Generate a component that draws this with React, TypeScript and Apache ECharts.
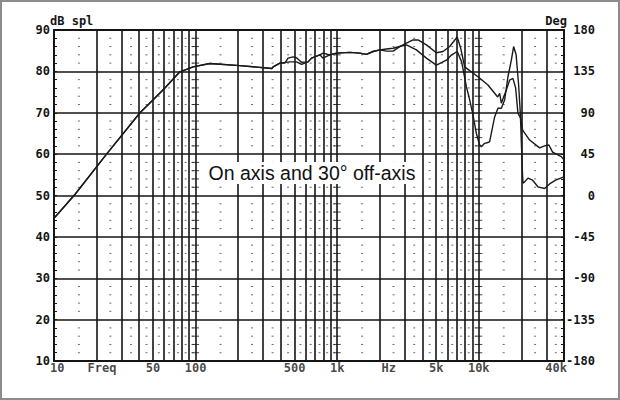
import React, { useEffect, useRef } from "react";
import * as echarts from "echarts";

// Shared low-frequency part (both curves coincide)
const freqShared = [10, 14.1, 23.5, 40.5, 50, 60.7, 70, 77.5, 96, 126, 205, 346];
const dbShared = [44.5, 50.3, 60.0, 70.0, 73.1, 76.0, 78.3, 79.9, 81.1, 81.9, 81.4, 80.7];

// On-axis curve (upper, after divergence)
const freqOn = [353, 394, 427, 450, 488, 516, 560, 623, 659, 754, 795, 887, 989, 1227, 1444, 1610, 1792, 1998, 2228, 2481, 2765, 3084, 3434, 3724, 4268, 5021, 5590, 6232, 7042, 7451, 7954, 9872, 11614, 12947, 13596, 14044, 14437, 15659, 16522, 17432, 18214, 18908, 19756, 20410, 22868, 26905, 29177, 31295, 33233, 38285, 40000];
const dbOn = [81.1, 82.0, 82.0, 83.2, 83.5, 83.3, 82.2, 82.3, 83.2, 84.0, 84.4, 84.0, 84.4, 84.6, 84.4, 84.1, 84.8, 85.2, 85.4, 85.6, 86.0, 86.8, 87.6, 87.6, 86.4, 84.5, 84.8, 86.0, 88.3, 85.6, 81.1, 78.7, 76.7, 74.7, 73.8, 74.7, 72.3, 75.5, 77.9, 78.3, 76.0, 69.9, 68.7, 65.8, 63.4, 61.5, 62.0, 62.2, 60.5, 59.4, 58.6];

// 30° off-axis curve
const freqOff = [353, 394, 463, 516, 560, 623, 659, 754, 795, 887, 989, 1227, 1444, 1610, 1792, 1998, 2228, 2481, 2765, 3084, 3627, 4268, 5021, 5907, 6439, 7042, 7573, 8176, 8628, 9101, 9618, 10148, 10430, 11005, 11614, 11939, 12597, 12947, 13662, 14437, 15232, 16074, 16986, 17633, 18362, 19125, 19661, 20311, 20512, 21086, 22245, 24017, 26170, 29177, 31652, 34890, 40000];
const dbOff = [81.1, 82.0, 82.3, 82.3, 81.7, 82.3, 83.2, 84.0, 83.2, 84.0, 84.4, 84.6, 84.4, 84.1, 84.8, 85.2, 84.9, 84.9, 86.0, 86.4, 85.2, 83.2, 81.5, 82.7, 84.0, 84.8, 82.3, 76.3, 73.1, 69.5, 65.0, 62.2, 61.8, 62.6, 62.8, 63.0, 67.0, 69.0, 71.1, 71.1, 73.1, 78.7, 82.7, 86.0, 84.0, 76.7, 69.9, 56.2, 53.0, 53.3, 54.2, 53.7, 52.1, 51.7, 52.8, 53.7, 54.5];

// Grid decoration values
const gridFreqs = [20, 30, 40, 50, 60, 70, 80, 90, 100, 200, 300, 400, 500, 600, 700, 800, 900, 1000, 2000, 3000, 4000, 5000, 6000, 7000, 8000, 9000, 10000, 20000, 30000];
const dotFreqs = [15, 25, 35, 45, 55, 65, 75, 85, 95, 150, 250, 350, 450, 550, 650, 750, 850, 950, 1500, 2500, 3500, 4500, 5500, 6500, 7500, 8500, 9500, 15000, 25000, 35000];
const dotLevels = [12, 14, 16, 18, 22, 24, 26, 28, 32, 34, 36, 38, 42, 44, 46, 48, 52, 54, 56, 58, 62, 64, 66, 68, 72, 74, 76, 78, 82, 84, 86, 88];
const crossFreqs = [100, 1000, 10000];

// X tick labels
const xTickFreqs = [10, 21.8, 50, 100, 500, 1000, 2310, 5000, 10000, 40000];
const xTickLabels = ["10", "Freq", "50", "100", "500", "1k", "Hz", "5k", "10k", "40k"];

const MONO = '"DejaVu Sans Mono", "Liberation Mono", monospace';
const INK = "#151515";

export default function App() {
  const ref = useRef<HTMLDivElement>(null);
  useEffect(() => {
    if (!ref.current) return;
    const chart = echarts.init(ref.current, undefined, { renderer: "svg" });

    const curveOn = freqShared.map((f, i) => [f, dbShared[i]]).concat(freqOn.map((f, i) => [f, dbOn[i]]));
    const curveOff = freqShared.map((f, i) => [f, dbShared[i]]).concat(freqOff.map((f, i) => [f, dbOff[i]]));

    const dots: number[][] = [];
    dotFreqs.forEach((f) => dotLevels.forEach((l) => dots.push([f, l])));
    const crosses: number[][] = [];
    crossFreqs.forEach((f) => dotLevels.forEach((l) => crosses.push([f, l])));

    const xLabelData = xTickFreqs.map((f, i) => {
      const item: any = { value: [f, 10], name: xTickLabels[i] };
      if (i === 0) item.label = { align: "left", offset: [-4, 0] };
      if (i === xTickFreqs.length - 1) item.label = { align: "right", offset: [3, 0] };
      return item;
    });

    const monoLabel = { fontFamily: MONO, fontWeight: "bold" as const, fontSize: 12, color: INK };

    chart.setOption({
      animation: false,
      backgroundColor: "#ffffff",
      grid: { left: 54, right: 56, top: 30, bottom: 39, show: true, borderColor: INK, borderWidth: 2, backgroundColor: "#ffffff" },
      xAxis: {
        type: "log",
        logBase: 10,
        min: 10,
        max: 40000,
        axisLine: { show: false },
        axisTick: { show: false },
        axisLabel: { show: false },
        splitLine: { show: false },
      },
      yAxis: [
        {
          type: "value",
          position: "left",
          min: 10,
          max: 90,
          interval: 10,
          axisLine: { show: false },
          axisTick: { show: true, inside: true, length: 3, lineStyle: { color: INK } },
          minorTick: { show: true, splitNumber: 5, length: 3, lineStyle: { color: INK, width: 1 } },
          axisLabel: { margin: 4, ...monoLabel },
          splitLine: { show: true, lineStyle: { color: INK, width: 1.6, type: "solid" } },
        },
        {
          type: "value",
          position: "right",
          min: -180,
          max: 180,
          interval: 45,
          axisLine: { show: false },
          axisTick: { show: true, inside: true, length: 3, lineStyle: { color: INK } },
          minorTick: { show: true, splitNumber: 5, length: 3, lineStyle: { color: INK, width: 1 } },
          axisLabel: { margin: 31, align: "right", ...monoLabel },
          splitLine: { show: false },
        },
      ],
      series: [
        {
          type: "scatter",
          name: "dots",
          silent: true,
          symbol: "rect",
          symbolSize: [2, 1],
          itemStyle: { color: "#444" },
          data: dots,
          z: 1,
          markLine: {
            silent: true,
            symbol: "none",
            label: { show: false },
            lineStyle: { type: "solid", color: INK, width: 1.6 },
            data: gridFreqs.map((f) => ({ xAxis: f })),
          },
        },
        {
          type: "scatter",
          name: "crosses",
          silent: true,
          symbol: "rect",
          symbolSize: [7, 1],
          itemStyle: { color: INK },
          data: crosses,
          z: 2,
        },
        {
          type: "line",
          name: "On axis",
          data: curveOn,
          showSymbol: false,
          lineStyle: { color: "#1a1a1a", width: 1.4 },
          z: 5,
        },
        {
          type: "line",
          name: "30° off-axis",
          data: curveOff,
          showSymbol: false,
          lineStyle: { color: "#1a1a1a", width: 1.4 },
          z: 5,
        },
        {
          type: "scatter",
          name: "xlabels",
          silent: true,
          symbolSize: 0,
          data: xLabelData,
          label: { show: true, position: "bottom", distance: 1, formatter: "{b}", ...monoLabel },
          z: 6,
        },
      ],
      graphic: [
        {
          type: "rect",
          shape: { x: 1, y: 1, width: 618, height: 398 },
          style: { fill: "none", stroke: "#8c8c8c", lineWidth: 2 },
          silent: true,
        },
        {
          type: "text",
          x: 50,
          y: 21,
          style: { text: "dB spl", font: `bold 12px ${MONO}`, fill: INK, align: "left", verticalAlign: "middle" },
        },
        {
          type: "text",
          x: 567,
          y: 21,
          style: { text: "Deg", font: `bold 12px ${MONO}`, fill: INK, align: "right", verticalAlign: "middle" },
        },
        {
          type: "text",
          x: 312,
          y: 173,
          z: 10,
          style: {
            text: "On axis and 30° off-axis",
            font: '19.5px "Liberation Sans", Arial, sans-serif',
            fill: "#111",
            align: "center",
            verticalAlign: "middle",
            backgroundColor: "#ffffff",
            padding: [1, 3, 1, 3],
          },
        },
      ],
    });
    return () => chart.dispose();
  }, []);
  return <div ref={ref} style={{ position: "fixed", left: 0, top: 0, width: 620, height: 400 }} />;
}
